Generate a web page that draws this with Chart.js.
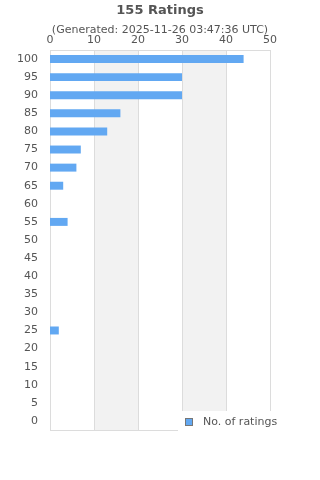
<!DOCTYPE html>
<html><head><meta charset="utf-8">
<script src="https://cdn.jsdelivr.net/npm/chart.js@4/dist/chart.umd.min.js"></script>
<style>html,body{margin:0;padding:0;background:#fff}#wrap{width:320px;height:480px}</style>
</head><body><div id="wrap"><canvas id="c" width="320" height="480"></canvas></div>
<script>
const categories = ["100","95","90","85","80","75","70","65","60","55","50","45","40","35","30","25","20","15","10","5","0"];
const ratings = [44,30,30,16,13,7,6,3,0,4,0,0,0,0,0,2,0,0,0,0,0];
const titleText = "155 Ratings";
const subtitleText = "(Generated: 2025-11-26 03:47:36 UTC)";
const seriesLabel = "No. of ratings";
const xTicks = [0,10,20,30,40,50];

const FONT = "'DejaVu Sans', sans-serif";
const TXT = "#555";

const deco = {
  id: 'deco',
  beforeDatasetsDraw(chart) {
    const {ctx, chartArea: a, scales: {x}} = chart;
    ctx.save();
    ctx.fillStyle = '#f2f2f2';
    [[10,20],[30,40]].forEach(([s,e]) => {
      const x0 = x.getPixelForValue(s), x1 = x.getPixelForValue(e);
      ctx.fillRect(x0, a.top, x1 - x0, a.bottom - a.top);
    });
    ctx.strokeStyle = '#dcdcdc';
    ctx.lineWidth = 1;
    xTicks.forEach(v => {
      const px = Math.round(x.getPixelForValue(v)) + 0.5;
      ctx.beginPath(); ctx.moveTo(px, a.top); ctx.lineTo(px, a.bottom); ctx.stroke();
    });
    ctx.beginPath(); ctx.moveTo(a.left, Math.round(a.top)+0.5); ctx.lineTo(a.right, Math.round(a.top)+0.5); ctx.stroke();
    ctx.beginPath(); ctx.moveTo(a.left, Math.round(a.bottom)+0.5); ctx.lineTo(a.right, Math.round(a.bottom)+0.5); ctx.stroke();
    ctx.restore();
  },
  afterDraw(chart) {
    const {ctx} = chart;
    ctx.save();
    ctx.fillStyle = TXT;
    ctx.textAlign = 'center';
    ctx.textBaseline = 'middle';
    ctx.font = "bold 13px " + FONT;
    ctx.fillText(titleText, 160, 11);
    ctx.font = "11px " + FONT;
    ctx.fillText(subtitleText, 160, 30);
    // legend box
    ctx.fillStyle = '#fff';
    ctx.fillRect(178, 411, 104, 22);
    ctx.fillStyle = '#62a8f2';
    ctx.fillRect(185.5, 418.5, 7, 7);
    ctx.strokeStyle = '#777';
    ctx.lineWidth = 1;
    ctx.strokeRect(185.5, 418.5, 7, 7);
    ctx.fillStyle = TXT;
    ctx.textAlign = 'left';
    ctx.font = "11px " + FONT;
    ctx.fillText(seriesLabel, 203, 422);
    ctx.restore();
  }
};

new Chart(document.getElementById('c'), {
  type: 'bar',
  data: {
    labels: categories,
    datasets: [{
      label: seriesLabel,
      data: ratings,
      backgroundColor: '#62a8f2',
      borderWidth: 0,
      categoryPercentage: 1,
      barPercentage: 0.44
    }]
  },
  options: {
    indexAxis: 'y',
    responsive: false,
    animation: false,
    devicePixelRatio: 1,
    layout: {padding: {top: 30, right: 50, bottom: 50, left: 0}},
    plugins: {legend: {display: false}, title: {display: false}, tooltip: {enabled: false}},
    scales: {
      x: {
        position: 'top',
        min: 0, max: 50,
        afterFit(s) { s.height = 20; },
        ticks: {stepSize: 10, color: TXT, font: {family: FONT, size: 11}, padding: 3},
        grid: {display: false, drawTicks: false},
        border: {display: false}
      },
      y: {
        afterFit(s) { s.width = 50; },
        ticks: {color: TXT, font: {family: FONT, size: 11}, padding: 12, autoSkip: false},
        grid: {display: false, drawTicks: false},
        border: {display: true, color: '#dcdcdc'}
      }
    }
  },
  plugins: [deco]
});
</script></body></html>
